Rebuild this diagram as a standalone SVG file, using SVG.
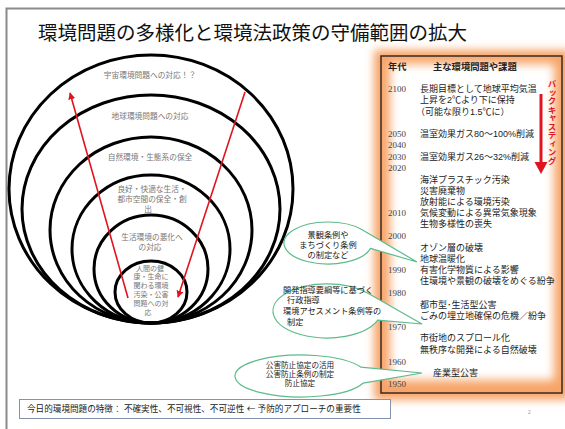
<svg xmlns="http://www.w3.org/2000/svg" width="565" height="429" viewBox="0 0 565 429">
<style>
.jp{font-family:"Liberation Sans","Noto Sans CJK JP",sans-serif}
.title{font-size:19.5px;fill:#111}
.ring{fill:none;stroke:#000;stroke-width:3}
.rl{font-size:7.7px;fill:#777;text-anchor:middle}
.rs{font-size:7px;fill:#777;text-anchor:middle}
.yr{font-family:"Liberation Serif",serif;font-size:9px;fill:#444}
.it{font-size:9px;fill:#222}
.hd{font-size:9.3px;fill:#222;font-weight:bold}
.co{fill:#fff;stroke:#5dbb8c;stroke-width:1.2}
.ct{font-size:8.2px;fill:#222}
.red{stroke:#e0141e;stroke-width:1.6;fill:none}
</style>
<defs>
<filter id="blur" x="-20%" y="-20%" width="140%" height="140%"><feGaussianBlur stdDeviation="4"/></filter>
<filter id="blur2" x="-20%" y="-20%" width="140%" height="140%"><feGaussianBlur stdDeviation="5"/></filter>
<marker id="ah" viewBox="0 0 10 10" refX="9" refY="5" markerWidth="7" markerHeight="7" orient="auto" markerUnits="userSpaceOnUse"><path d="M0,0 L10,5 L0,10 z" fill="#e0141e"/></marker>
</defs>
<rect width="565" height="429" fill="#fff"/>
<path d="M6.5,429 V8.5 H565" fill="none" stroke="#8a8a8a" stroke-width="2"/>
<text class="jp title" x="38" y="40">環境問題の多様化と環境法政策の守備範囲の拡大</text>

<g id="rings">
<ellipse class="ring" cx="151" cy="189" rx="142" ry="134"/>
<ellipse class="ring" cx="151" cy="209" rx="129" ry="114"/>
<ellipse class="ring" cx="151" cy="230" rx="101" ry="93"/>
<ellipse class="ring" cx="151" cy="249" rx="79" ry="74"/>
<ellipse class="ring" cx="151" cy="269" rx="57" ry="54"/>
<ellipse class="ring" cx="151" cy="292" rx="36" ry="31"/>
</g>
<g id="ring-labels" class="jp">
<text class="rl" x="150" y="78">宇宙環境問題への対応！？</text>
<text class="rl" x="150" y="119">地球環境問題への対応</text>
<text class="rl" x="150" y="160">自然環境・生態系の保全</text>
<text class="rl" x="152" y="192">良好・快適な生活・<tspan x="152" dy="10">都市空間の保全・創</tspan><tspan x="148" dy="9.5">出</tspan></text>
<text class="rl" x="152" y="240">生活環境の悪化へ<tspan x="150" dy="9.5">の対応</tspan></text>
<text class="rs" x="150" y="270.5">人間の健<tspan x="151" dy="8.8">康・生命に</tspan><tspan x="151" dy="8.8">関わる環境</tspan><tspan x="151" dy="8.8">汚染・公害</tspan><tspan x="151" dy="8.8">問題への対</tspan><tspan x="148" dy="8.8">応</tspan></text>
</g>
<g id="connectors">
<line class="red" x1="128" y1="298" x2="70" y2="93" marker-end="url(#ah)"/>
<line class="red" x1="245" y1="92" x2="178" y2="297" marker-end="url(#ah)"/>
</g>

<g id="timeline">
<rect x="374" y="50" width="196" height="350" fill="#f7a468" filter="url(#blur)"/>
<rect x="390" y="64" width="164" height="316" fill="#fff" filter="url(#blur2)"/>
<rect x="381" y="56" width="181" height="337" fill="none" stroke="#3a2a20" stroke-width="1.5"/>
<text class="jp hd" x="388" y="70">年代</text>
<text class="jp hd" x="433" y="70">主な環境問題や課題</text>
<text class="yr"><tspan x="388" y="92">2100</tspan><tspan x="388" y="137">2050</tspan><tspan x="388" y="148">2040</tspan><tspan x="388" y="160">2030</tspan><tspan x="388" y="171">2020</tspan><tspan x="388" y="216">2010</tspan><tspan x="388" y="239">2000</tspan><tspan x="388" y="273">1990</tspan><tspan x="388" y="296">1980</tspan><tspan x="388" y="330">1970</tspan><tspan x="388" y="365">1960</tspan><tspan x="388" y="387">1950</tspan></text>
<text class="jp it"><tspan x="420" y="92">長期目標として地球平均気温</tspan><tspan x="420" y="103">上昇を2℃より下に保持</tspan><tspan x="416" y="115">（可能な限り1.5℃に）</tspan></text>
<text class="jp it"><tspan x="420" y="137">温室効果ガス80～100%削減</tspan><tspan x="420" y="160">温室効果ガス26～32%削減</tspan></text>
<text class="jp it"><tspan x="420" y="183">海洋プラスチック汚染</tspan><tspan x="420" y="194">災害廃棄物</tspan><tspan x="420" y="205">放射能による環境汚染</tspan><tspan x="420" y="216">気候変動による異常気象現象</tspan><tspan x="420" y="227">生物多様性の喪失</tspan></text>
<text class="jp it"><tspan x="420" y="251">オゾン層の破壊</tspan><tspan x="420" y="262">地球温暖化</tspan><tspan x="420" y="273">有害化学物質による影響</tspan><tspan x="420" y="284">住環境や景観の破壊をめぐる紛争</tspan></text>
<text class="jp it"><tspan x="420" y="308">都市型･生活型公害</tspan><tspan x="420" y="319">ごみの埋立地確保の危機／紛争</tspan></text>
<text class="jp it"><tspan x="420" y="341">市街地のスプロール化</tspan><tspan x="420" y="353">無秩序な開発による自然破壊</tspan><tspan x="433" y="376">産業型公害</tspan></text>
<text class="jp" x="551" y="80" style="writing-mode:vertical-rl;font-size:8.5px;font-weight:bold;fill:#e0141e">バックキャスティング</text>
<line x1="541" y1="94" x2="541" y2="163" stroke="#e0141e" stroke-width="3"/>
<polygon points="534.5,162 547.5,162 541,174" fill="#e0141e"/>
</g>

<g id="callout1">
<path class="co" d="M370.5,248.4 L417,262 L361.7,229.5 A44,21 0 1 0 370.5,248.4 Z"/>
<text class="jp ct" text-anchor="middle"><tspan x="328" y="238">景観条例や</tspan><tspan x="328" y="248">まちづくり条例</tspan><tspan x="328" y="258">の制定など</tspan></text>
</g>
<g id="callout2">
<path class="co" d="M377.7,320.2 L422,324 L368.4,293.6 A54,27 0 1 0 377.7,320.2 Z"/>
<text class="jp ct"><tspan x="283" y="293">開発指導要綱等に基づく</tspan><tspan x="287" y="303">行政指導</tspan><tspan x="283" y="314">環境アセスメント条例等の</tspan><tspan x="287" y="325">制定</tspan></text>
</g>
<g id="callout3">
<path class="co" d="M363,383.2 L422,373 L360.8,367.1 A66,21 0 1 0 363,383.2 Z"/>
<text class="jp ct" text-anchor="middle" style="font-size:7.6px"><tspan x="300" y="368">公害防止協定の活用</tspan><tspan x="300" y="377">公害防止条例の制定</tspan><tspan x="300" y="386">防止協定</tspan></text>
</g>

<g id="note">
<rect x="19.5" y="399.5" width="371" height="19" fill="#fff" stroke="#8593ad" stroke-width="1"/>
<text class="jp" x="27" y="412" style="font-size:8.6px;fill:#222">今日的環境問題の特徴： 不確実性、不可視性、不可逆性 <tspan style="font-family:'Noto Sans CJK JP',sans-serif">←</tspan> 予防的アプローチの重要性</text>
</g>
<text x="528" y="414" style="font-family:'Liberation Sans',sans-serif;font-size:5px;fill:#999">2</text>
</svg>
